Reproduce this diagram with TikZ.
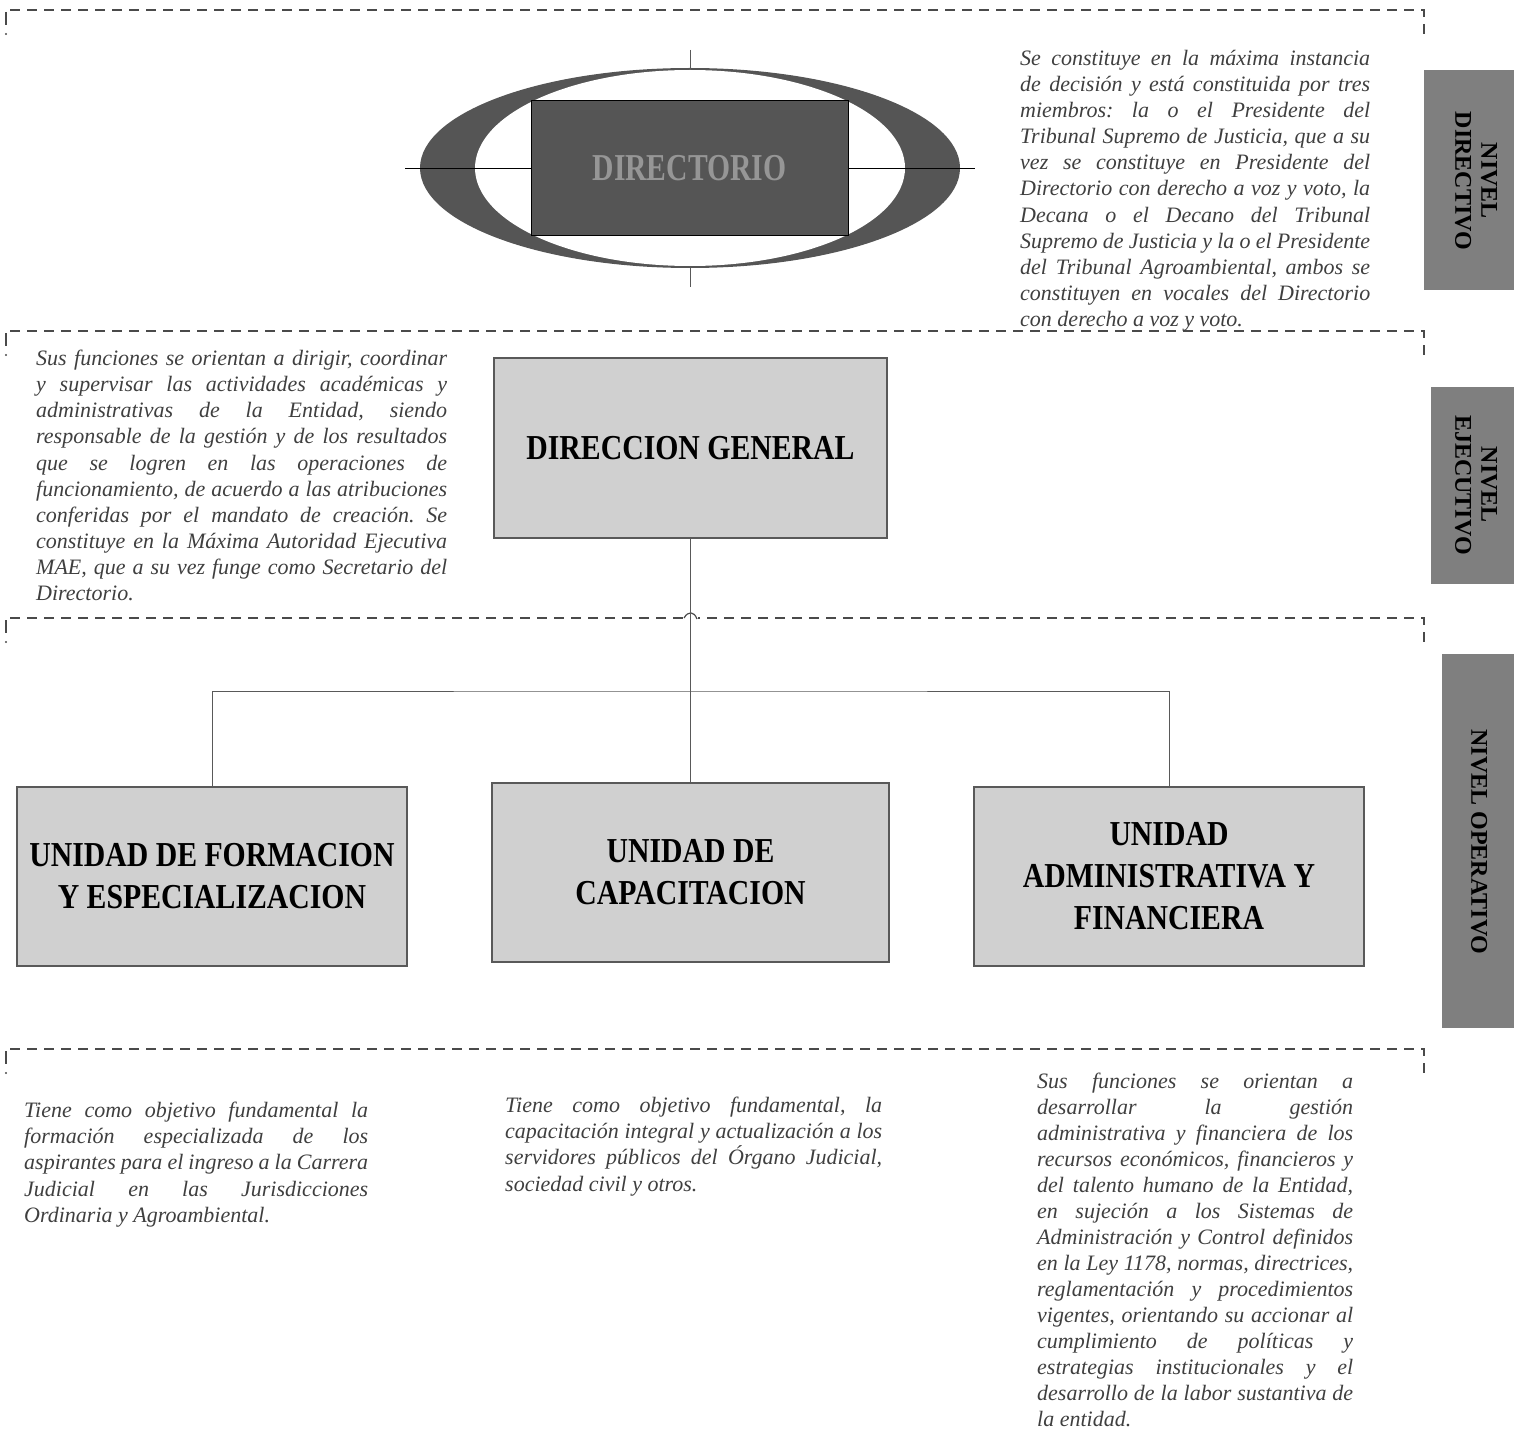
\documentclass[tikz,border=0pt]{standalone}
\usepackage{fontspec}
\setmainfont{Liberation Serif}
\usepackage{graphicx}
\definecolor{txtgray}{HTML}{3F3F3F}
\definecolor{boxfill}{HTML}{D0D0D0}
\definecolor{boxline}{HTML}{595959}
\definecolor{ringgray}{HTML}{555555}
\definecolor{tabgray}{HTML}{7F7F7F}
\definecolor{dashgray}{HTML}{4A4A4A}
\newcommand{\sqz}[1]{\scalebox{0.85}[1]{#1}}
\frenchspacing
\tikzset{
  para/.style={anchor=north west, inner sep=0pt, text width=#1, align=justify,
    font=\fontsize{22}{26.1}\selectfont\itshape\frenchspacing, text=txtgray},
  unitbox/.style={draw=boxline, line width=1.6pt, fill=boxfill, inner sep=0pt,
    font=\fontsize{35}{42}\selectfont\bfseries, align=center},
  levelline/.style={draw=dashgray, line width=1.4pt, dash pattern=on 10pt off 7pt},
  tick/.style={draw=dashgray, line width=1.4pt},
  connector/.style={draw=boxline, line width=1pt},
  tabtext/.style={rotate=-90, align=center, font=\fontsize{24}{26}\selectfont\bfseries, text=black, inner sep=0pt}
}
\begin{document}
\begin{tikzpicture}[x=1pt,y=-1pt]
\useasboundingbox (0,0) rectangle (1514,1431);

% level dashed lines
\foreach \yy in {10,331,618,1049}{
  \draw[levelline] (10,\yy) -- (1424,\yy) -- (1424,\yy+26);
  \draw[tick] (6,\yy+2) -- (6,\yy+15);
  \fill[dashgray] (6,\yy+24) circle (1.2pt);
}

% side tabs
\fill[tabgray] (1424,70) rectangle (1514,290);
\fill[tabgray] (1431,387) rectangle (1514,584);
\fill[tabgray] (1442,654) rectangle (1514,1028);
\node[tabtext] (t1) at (1476,181) {NIVEL\\DIRECTIVO};
\node[tabtext] (t2) at (1476,485) {NIVEL\\EJECUTIVO};
\node[tabtext] (t3) at (1479,842) {NIVEL OPERATIVO};

% directorio emblem
\fill[ringgray] (690,168) ellipse [x radius=270pt, y radius=100pt];
\fill[white] (690,168) ellipse [x radius=215pt, y radius=98pt];
\draw[black, line width=0.8pt] (405,168) -- (975,168);
\draw[boxline, line width=1pt] (690,50) -- (690,69);
\draw[boxline, line width=1pt] (690,268) -- (690,287);
\node[draw=black, line width=1pt, fill=ringgray, minimum width=317pt, minimum height=135pt, inner sep=0pt,
  font=\fontsize{38}{40}\selectfont\bfseries, text={rgb,255:red,150;green,150;blue,150}] (dir) at (689.5,168.5)
  {\scalebox{0.78}[1]{DIRECTORIO}};

% boxes
\node[unitbox, minimum width=393pt, minimum height=180pt] (dg) at (690.5,448) {\sqz{DIRECCION GENERAL}};
\node[unitbox, minimum width=390pt, minimum height=179pt] (ua) at (212,876.5) {\sqz{UNIDAD DE FORMACION}\\\sqz{Y ESPECIALIZACION}};
\node[unitbox, minimum width=397pt, minimum height=179pt] (ub) at (690.5,872.5) {\sqz{UNIDAD DE}\\\sqz{CAPACITACION}};
\node[unitbox, minimum width=390pt, minimum height=179pt] (uc) at (1169,876.5) {\sqz{UNIDAD}\\\sqz{ADMINISTRATIVA Y}\\\sqz{FINANCIERA}};

% connectors
\coordinate (hub) at (690,691);
\draw[connector] (dg.south) -- (ub.north);
\draw[connector] (ua.north) |- (hub) -| (uc.north);
\fill[white] (684,614) rectangle (698,621);
\draw[dashgray, line width=1.2pt] (684,618) .. controls (688,611) and (694,611) .. (697,619);
\draw[connector] (690,610) -- (690,625);

% paragraphs
\node[para=350pt] (p1) at (1020,50) {Se constituye en la máxima instancia\linebreak
de decisión y está constituida por tres\linebreak
miembros: la o el Presidente del\linebreak
Tribunal Supremo de Justicia, que a su\linebreak
vez se constituye en Presidente del\linebreak
Directorio con derecho a voz y voto, la\linebreak
Decana o el Decano del Tribunal\linebreak
Supremo de Justicia y la o el Presidente\linebreak
del Tribunal Agroambiental, ambos se\linebreak
constituyen en vocales del Directorio\linebreak
con derecho a voz y voto.};

\node[para=411pt] (p2) at (36,350) {Sus funciones se orientan a dirigir, coordinar\linebreak
y supervisar las actividades académicas y\linebreak
administrativas de la Entidad, siendo\linebreak
responsable de la gestión y de los resultados\linebreak
que se logren en las operaciones de\linebreak
funcionamiento, de acuerdo a las atribuciones\linebreak
conferidas por el mandato de creación. Se\linebreak
constituye en la Máxima Autoridad Ejecutiva\linebreak
MAE, que a su vez funge como Secretario del\linebreak
Directorio.};

\node[para=344pt] (p3) at (24,1102) {Tiene como objetivo fundamental la\linebreak
formación especializada de los\linebreak
aspirantes para el ingreso a la Carrera\linebreak
Judicial en las Jurisdicciones\linebreak
Ordinaria y Agroambiental.};

\node[para=377pt] (p4) at (505,1097) {Tiene como objetivo fundamental, la\linebreak
capacitación integral y actualización a los\linebreak
servidores públicos del Órgano Judicial,\linebreak
sociedad civil y otros.};

\node[para=316pt, font=\fontsize{22}{25.95}\selectfont\itshape\frenchspacing] (p5) at (1037,1073) {Sus funciones se orientan a\linebreak
desarrollar la gestión\linebreak
administrativa y financiera de los\linebreak
recursos económicos, financieros y\linebreak
del talento humano de la Entidad,\linebreak
en sujeción a los Sistemas de\linebreak
Administración y Control definidos\linebreak
en la Ley 1178, normas, directrices,\linebreak
reglamentación y procedimientos\linebreak
vigentes, orientando su accionar al\linebreak
cumplimiento de políticas y\linebreak
estrategias institucionales y el\linebreak
desarrollo de la labor sustantiva de\linebreak
la entidad.};
\end{tikzpicture}
\end{document}
